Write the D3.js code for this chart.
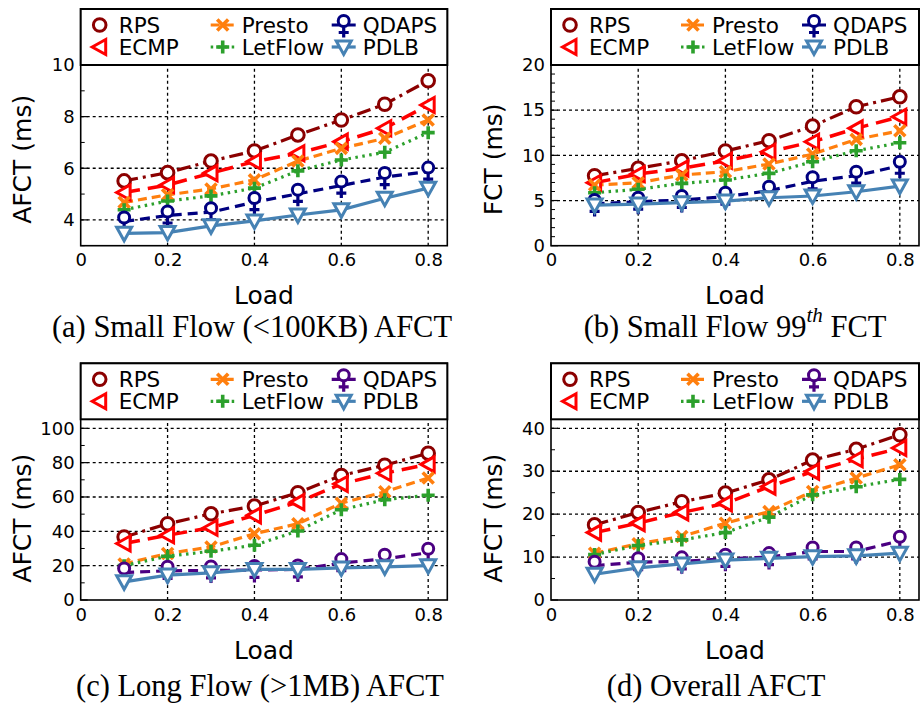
<!DOCTYPE html>
<html><head><meta charset="utf-8">
<script src="https://cdn.jsdelivr.net/npm/d3@7"></script>
<style>body{margin:0;background:#fff} svg{display:block}</style>
</head><body><svg id="c" width="921" height="704"></svg>
<script>
// ---------------- data ----------------
const loads = [0.1, 0.2, 0.3, 0.4, 0.5, 0.6, 0.7, 0.8];
const xTicks = [0, 0.2, 0.4, 0.6, 0.8];
const seriesNames = ["RPS", "ECMP", "Presto", "LetFlow", "QDAPS", "PDLB"];

// (a) Small flow AFCT (ms)
const aRPS     = [5.51, 5.83, 6.28, 6.67, 7.29, 7.87, 8.48, 9.39];
const aECMP    = [5.06, 5.35, 5.81, 6.26, 6.58, 7.03, 7.55, 8.45];
const aPresto  = [4.68, 4.97, 5.20, 5.55, 6.28, 6.77, 7.16, 7.87];
const aLetFlow = [4.39, 4.73, 4.93, 5.23, 5.90, 6.32, 6.62, 7.38];
const aQDAPS   = [3.94, 4.17, 4.30, 4.69, 5.01, 5.33, 5.66, 5.87];
const aPDLB    = [3.48, 3.51, 3.77, 3.96, 4.19, 4.39, 4.84, 5.23];
const aYTicks = [4, 6, 8, 10];

// (b) Small flow 99th FCT (ms)
const bRPS     = [7.74, 8.56, 9.40, 10.48, 11.62, 13.24, 15.38, 16.48];
const bECMP    = [6.97, 7.93, 8.56, 9.40, 10.40, 11.50, 12.99, 14.27];
const bPresto  = [6.71, 6.97, 7.82, 8.19, 9.04, 10.14, 11.77, 12.72];
const bLetFlow = [5.86, 6.24, 6.90, 7.27, 8.01, 9.29, 10.51, 11.39];
const bQDAPS   = [4.62, 4.87, 5.06, 5.42, 6.09, 7.13, 7.75, 8.85];
const bPDLB    = [4.50, 4.61, 4.76, 4.94, 5.31, 5.50, 5.97, 6.60];
const bYTicks = [0, 5, 10, 15, 20];

// (c) Long flow AFCT (ms)
const cRPS     = [36.7, 44.4, 50.2, 54.7, 62.5, 72.5, 78.5, 85.5];
const cECMP    = [32.9, 37.7, 42.1, 49.3, 57.0, 67.6, 73.8, 79.0];
const cPresto  = [21.0, 27.1, 30.9, 38.6, 44.4, 56.4, 63.0, 71.0];
const cLetFlow = [20.0, 25.5, 28.4, 31.9, 40.2, 52.6, 58.4, 61.0];
const cQDAPS   = [16.0, 17.0, 17.2, 17.5, 17.8, 21.5, 24.0, 27.5];
const cPDLB    = [10.6, 14.5, 15.8, 17.8, 17.8, 18.7, 19.3, 20.0];
const cYTicks = [0, 20, 40, 60, 80, 100];

// (d) Overall AFCT (ms)
const dRPS     = [17.5, 20.4, 22.9, 24.9, 28.0, 32.6, 35.1, 38.5];
const dECMP    = [15.7, 17.9, 20.4, 22.5, 26.4, 29.9, 32.8, 35.4];
const dPresto  = [10.9, 13.1, 14.8, 17.9, 20.6, 25.3, 28.4, 31.5];
const dLetFlow = [10.6, 12.7, 14.0, 15.7, 19.3, 24.5, 26.4, 28.1];
const dQDAPS   = [8.0, 8.8, 9.0, 9.6, 10.0, 11.3, 11.3, 13.8];
const dPDLB    = [6.0, 7.5, 8.4, 9.3, 9.7, 10.1, 10.3, 10.9];
const dYTicks = [0, 10, 20, 30, 40];

// ---------------- styles ----------------
const colors = {RPS:"#8b0000", ECMP:"#ff0000", Presto:"#ff7f0e", LetFlow:"#2ca02c", QDAPS:"#000080", PDLB:"#4682b4"};
const dashes = {RPS:"14,5,3,5", ECMP:"16,8", Presto:"9,5", LetFlow:"2.5,4.5", QDAPS:"10,6", PDLB:null};
const markers = {RPS:"circle", ECMP:"tleft", Presto:"x", LetFlow:"plus", QDAPS:"female", PDLB:"tdown"};

const panels = [
  {series:[aRPS,aECMP,aPresto,aLetFlow,aQDAPS,aPDLB], yTicks:aYTicks, yMin:3, yMinorStep:1,
   ylabel:"AFCT (ms)", caption:["(a) Small Flow (<100KB) AFCT"], left:80.7, right:447.3, bottom:245.7, gridTop:65, qColor:"#000080", capX:252, capDy:81},
  {series:[bRPS,bECMP,bPresto,bLetFlow,bQDAPS,bPDLB], yTicks:bYTicks, yMin:0, yMinorStep:1,
   ylabel:"FCT (ms)", caption:["(b) Small Flow 99","th"," FCT"], left:551, right:919, bottom:245.7, gridTop:65, qColor:"#000080", capX:735, capDy:81},
  {series:[cRPS,cECMP,cPresto,cLetFlow,cQDAPS,cPDLB], yTicks:cYTicks, yMin:0, yMinorStep:10,
   ylabel:"AFCT (ms)", caption:["(c) Long Flow (>1MB) AFCT"], left:80.7, right:447.3, bottom:600, gridTop:428.3, qColor:"#4b0082", capX:260, capDy:86},
  {series:[dRPS,dECMP,dPresto,dLetFlow,dQDAPS,dPDLB], yTicks:dYTicks, yMin:0, yMinorStep:5,
   ylabel:"AFCT (ms)", caption:["(d) Overall AFCT"], left:551, right:919, bottom:600, gridTop:428.3, qColor:"#4b0082", capX:716, capDy:86}
];

const svg = d3.select("#c");
const FONT = "'DejaVu Sans', Verdana, sans-serif";

function drawMarker(g, type, color) {
  const sw = 3;
  if (type === "circle") {
    g.append("circle").attr("r", 6.3).attr("fill", "#fff").attr("stroke", color).attr("stroke-width", sw);
  } else if (type === "tleft") {
    g.append("path").attr("d", "M-7.5,0L6,-7.5L6,7.5Z").attr("fill", "#fff").attr("stroke", color).attr("stroke-width", sw).attr("stroke-linejoin", "miter");
  } else if (type === "tdown") {
    g.append("path").attr("d", "M-7.5,-6L7.5,-6L0,7.5Z").attr("fill", "#fff").attr("stroke", color).attr("stroke-width", sw).attr("stroke-linejoin", "miter");
  } else if (type === "x") {
    g.append("path").attr("d", "M-5.5,-5.5L5.5,5.5M-5.5,5.5L5.5,-5.5").attr("stroke", color).attr("stroke-width", 3.6);
  } else if (type === "plus") {
    g.append("path").attr("d", "M-6.5,0L6.5,0M0,-6.5L0,6.5").attr("stroke", color).attr("stroke-width", 3.6);
  } else if (type === "female") {
    g.append("path").attr("d", "M0,1.5L0,12.5M-5,7.5L5,7.5").attr("stroke", color).attr("stroke-width", 3.2);
    g.append("circle").attr("cy", -4).attr("r", 5.5).attr("fill", "#fff").attr("stroke", color).attr("stroke-width", sw);
  }
}

panels.forEach(p => {
  const legendH = 56;
  const legendBottom = p.gridTop - (p.gridTop === 65 ? 0 : 9);
  const frameTop = legendBottom - legendH;
  const yMax = p.yTicks[p.yTicks.length - 1];
  const x = d3.scaleLinear().domain([0, 0.844]).range([p.left, p.right]);
  const y = d3.scaleLinear().domain([p.yMin, yMax]).range([p.bottom, p.gridTop]);
  const g = svg.append("g");

  // gridlines
  const gridY = p.yTicks.filter(v => v > p.yMin);
  g.selectAll(".gy").data(gridY).join("line")
    .attr("x1", p.left).attr("x2", p.right).attr("y1", d => y(d)).attr("y2", d => y(d))
    .attr("stroke", "#000").attr("stroke-width", 1.3).attr("stroke-dasharray", "3,3");
  g.selectAll(".gx").data(xTicks.filter(v => v > 0)).join("line")
    .attr("x1", d => x(d)).attr("x2", d => x(d)).attr("y1", p.bottom).attr("y2", legendBottom)
    .attr("stroke", "#000").attr("stroke-width", 1.3).attr("stroke-dasharray", "3,3");

  // minor ticks (inward)
  const minors = d3.range(p.yMin, yMax + 0.001, p.yMinorStep).filter(v => !p.yTicks.includes(v));
  g.selectAll(".mt").data(minors).join("line")
    .attr("x1", p.left).attr("x2", p.left + 4).attr("y1", d => y(d)).attr("y2", d => y(d))
    .attr("stroke", "#000").attr("stroke-width", 1);
  g.selectAll(".Mt").data(p.yTicks).join("line")
    .attr("x1", p.left).attr("x2", p.left + 7).attr("y1", d => y(d)).attr("y2", d => y(d))
    .attr("stroke", "#000").attr("stroke-width", 1.2);

  // axes labels via d3 axes
  const yAxis = d3.axisLeft(y).tickValues(p.yTicks).tickFormat(d3.format("d")).tickSize(0).tickPadding(6);
  const ya = g.append("g").attr("transform", `translate(${p.left},0)`).call(yAxis);
  ya.select(".domain").remove();
  ya.selectAll("text").attr("font-family", FONT).attr("font-size", 18).attr("fill", "#000");
  const xAxis = d3.axisBottom(x).tickValues(xTicks).tickFormat(d => d === 0 ? "0" : d3.format(".1f")(d)).tickSize(0).tickPadding(8);
  const xa = g.append("g").attr("transform", `translate(0,${p.bottom})`).call(xAxis);
  xa.select(".domain").remove();
  xa.selectAll("text").attr("font-family", FONT).attr("font-size", 18).attr("fill", "#000");

  // series lines
  const line = d3.line().x((d, i) => x(loads[i])).y(d => y(d));
  seriesNames.forEach((name, si) => {
    const col = name === "QDAPS" ? p.qColor : colors[name];
    g.append("path").datum(p.series[si]).attr("d", line)
      .attr("fill", "none").attr("stroke", col).attr("stroke-width", name === "ECMP" ? 3.5 : 3.2)
      .attr("stroke-dasharray", dashes[name]);
  });
  seriesNames.forEach((name, si) => {
    const col = name === "QDAPS" ? p.qColor : colors[name];
    p.series[si].forEach((v, i) => {
      const mg = g.append("g").attr("transform", `translate(${x(loads[i])},${y(v)})`);
      drawMarker(mg, markers[name], col);
    });
  });

  // frame
  g.append("rect").attr("x", p.left).attr("y", frameTop).attr("width", p.right - p.left).attr("height", p.bottom - frameTop)
    .attr("fill", "none").attr("stroke", "#000").attr("stroke-width", 1.6);

  // legend
  g.append("rect").attr("x", p.left).attr("y", frameTop).attr("width", p.right - p.left).attr("height", legendH)
    .attr("fill", "#fff").attr("stroke", "#000").attr("stroke-width", 2);
  const colText = [38, 161, 282];
  seriesNames.forEach((name, si) => {
    const c = Math.floor(si / 2), r = si % 2;
    const tx = p.left + colText[c];
    const ty = frameTop + 16 + r * 22;
    const hc = tx - 19;
    const col = name === "QDAPS" ? p.qColor : colors[name];
    if (name !== "RPS" && name !== "ECMP") {
      g.append("line").attr("x1", hc - 12).attr("x2", hc + 12).attr("y1", ty).attr("y2", ty)
        .attr("stroke", col).attr("stroke-width", 3.2).attr("stroke-dasharray", dashes[name]);
    }
    const mg = g.append("g").attr("transform", `translate(${hc},${ty})`);
    drawMarker(mg, markers[name], col);
    g.append("text").attr("x", tx).attr("y", ty).attr("dominant-baseline", "central")
      .attr("font-family", FONT).attr("font-size", 21.5).text(name);
  });

  // axis titles
  g.append("text").attr("transform", `translate(${p.left - 58},${(p.gridTop + p.bottom) / 2 + 4}) rotate(-90)`)
    .attr("text-anchor", "middle").attr("dominant-baseline", "central")
    .attr("font-family", FONT).attr("font-size", 25).text(p.ylabel);
  g.append("text").attr("x", (p.left + p.right) / 2).attr("y", p.bottom + 50).attr("text-anchor", "middle")
    .attr("dominant-baseline", "central").attr("font-family", FONT).attr("font-size", 25).text("Load");

  // caption
  const cap = g.append("text").attr("x", p.capX).attr("y", p.bottom + p.capDy).attr("text-anchor", "middle")
    .attr("dominant-baseline", "central").attr("font-family", "'Liberation Serif','Times New Roman',serif").attr("font-size", 30.5);
  cap.append("tspan").text(p.caption[0]);
  if (p.caption.length > 1) {
    cap.append("tspan").attr("font-style", "italic").attr("font-size", 21).attr("baseline-shift", "super").text(p.caption[1]);
    cap.append("tspan").text(p.caption[2]);
  }
});
</script></body></html>
